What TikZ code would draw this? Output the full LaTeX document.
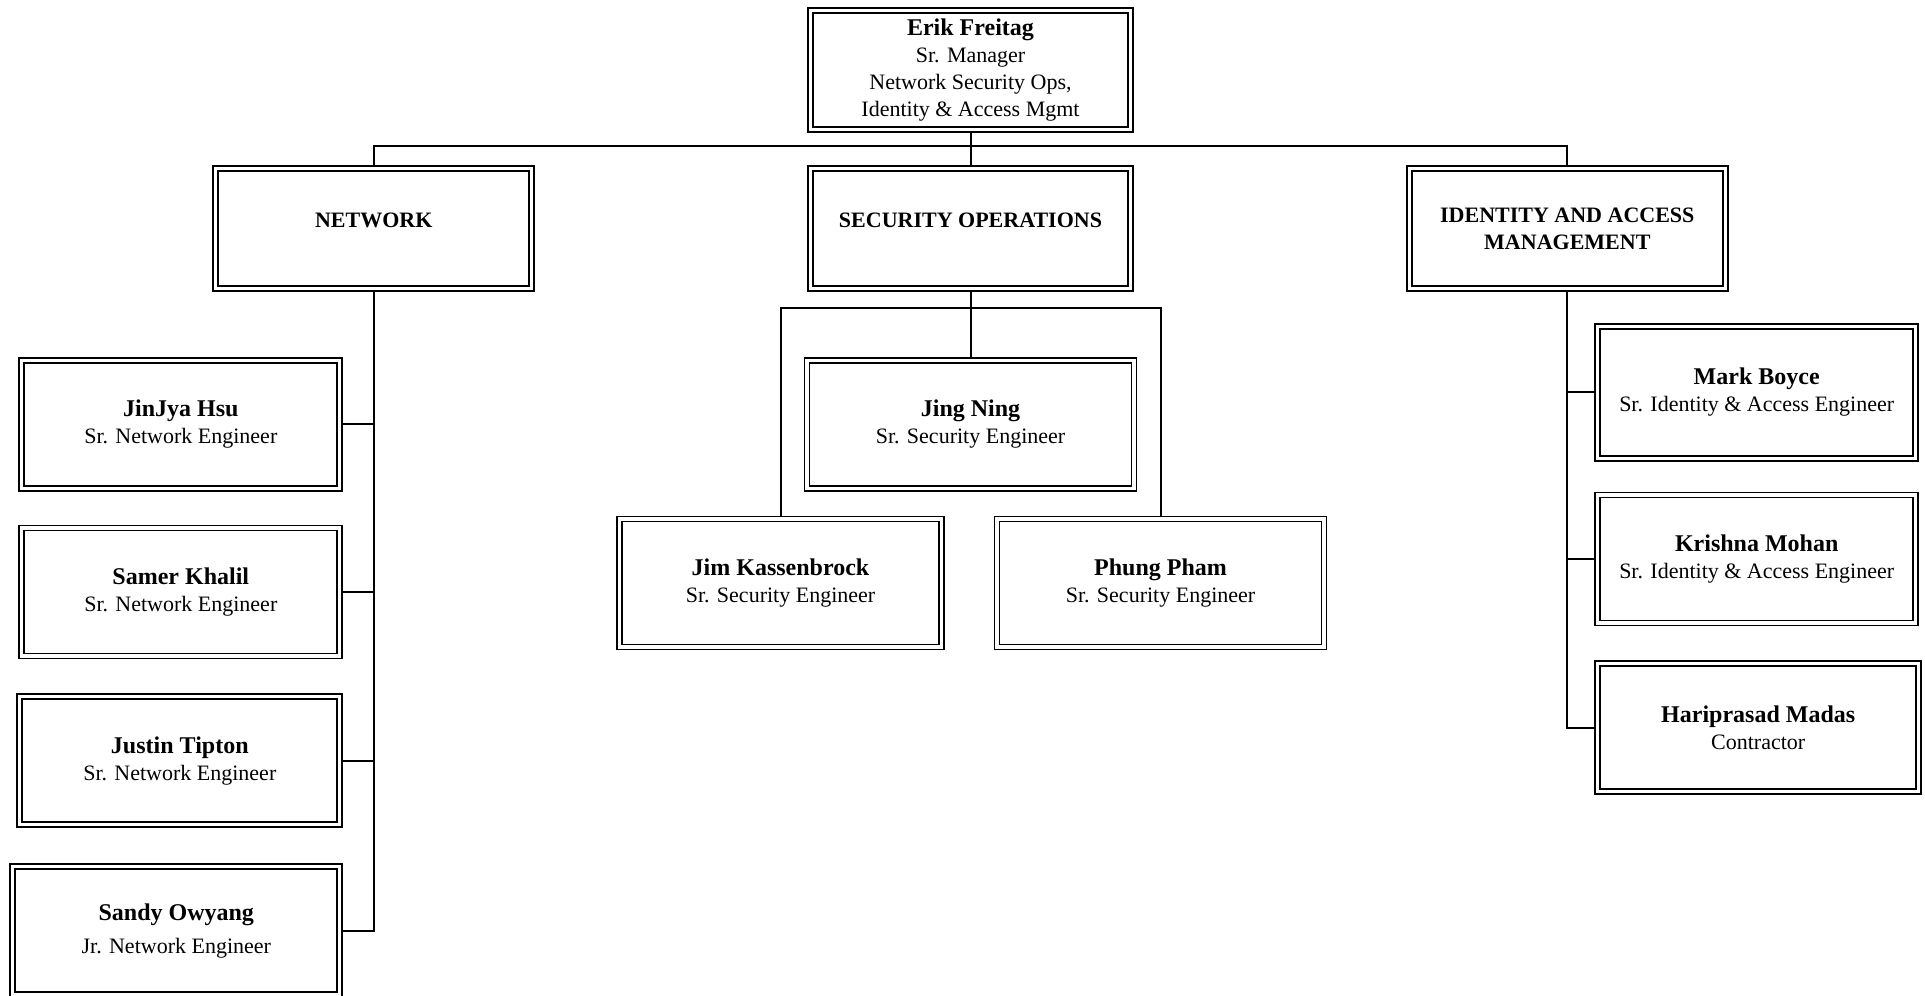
\documentclass[tikz,border=0pt]{standalone}
\usepackage{fontspec}
\setmainfont{Liberation Serif}
\usetikzlibrary{positioning}

\begin{document}
\begin{tikzpicture}[
  frame/.style={rectangle, draw=black, double, line width=0.9pt, double distance=1.6pt,
    outer sep=1.7pt, inner sep=2pt, align=center, font=\fontsize{11}{13.5}\selectfont},
  lead/.style={frame, minimum width=160pt, minimum height=59.6pt},
  unit/.style={frame, minimum width=158pt, minimum height=60pt,
    font=\fontsize{11}{13.5}\selectfont\bfseries},
  person/.style={frame, minimum width=159pt, minimum height=64pt},
  link/.style={black, line width=1pt}]
\useasboundingbox (0,0) rectangle (962.5pt,-497.5pt);
\node[lead] (boss) at (485.25pt,-35pt) {{\large\bfseries Erik Freitag}\\Sr. Manager\\Network Security Ops,\\Identity \& Access Mgmt};
\node[unit, minimum width=160pt, text depth=8pt, below=16pt of boss] (secops) {SECURITY OPERATIONS};
\node[unit, text depth=8pt, left=136pt of secops] (network) {NETWORK};
\node[unit, right=136pt of secops] (iam) {IDENTITY AND ACCESS\\MANAGEMENT};
\coordinate (topbar) at ([yshift=-6.5pt]boss.south);
\draw[link] (boss) -- (secops);
\draw[link] (network.north) |- (topbar) -| (iam.north);
% security operations
\node[person, minimum width=163.5pt, below=32.5pt of secops] (jing) {{\large\bfseries Jing Ning}\\Sr. Security Engineer};
\node[person, minimum width=161pt, below=12pt of jing, xshift=-95pt] (jim) {{\large\bfseries Jim Kassenbrock}\\Sr. Security Engineer};
\node[person, minimum width=163.5pt, below=12pt of jing, xshift=95pt] (phung) {{\large\bfseries Phung Pham}\\Sr. Security Engineer};
\coordinate (secbar) at ([yshift=-8pt]secops.south);
\draw[link] (secops) -- (jing);
\draw[link] (jim.north) |- (secbar) -| (phung.north);
% network
\node[person, below left=32.5pt and 15.25pt of network.south] (jinjya) {{\large\bfseries JinJya Hsu}\\Sr. Network Engineer};
\node[person, below=16.5pt of jinjya.south east, anchor=north east] (samer) {{\large\bfseries Samer Khalil}\\Sr. Network Engineer};
\node[person, minimum width=160pt, below=17pt of samer.south east, anchor=north east] (justin) {{\large\bfseries Justin Tipton}\\Sr. Network Engineer};
\node[person, minimum width=163.5pt, below=17.5pt of justin.south east, anchor=north east] (sandy) {{\large\bfseries Sandy Owyang}\\[3pt]Jr. Network Engineer};
\draw[link] (network.south) |- (sandy.east);
\foreach \p in {jinjya,samer,justin}
  \draw[link] (\p.east) -- (\p.east -| network.south);
% identity and access
\node[person, minimum height=66pt, below right=15.5pt and 13.5pt of iam.south] (mark) {{\large\bfseries Mark Boyce}\\Sr. Identity \& Access Engineer};
\node[person, below=15pt of mark.south west, anchor=north west] (krishna) {{\large\bfseries Krishna Mohan}\\Sr. Identity \& Access Engineer};
\node[person, minimum width=160.5pt, below=17pt of krishna.south west, anchor=north west] (hari) {{\large\bfseries Hariprasad Madas}\\Contractor};
\draw[link] (iam.south) |- (hari.west);
\foreach \p in {mark,krishna}
  \draw[link] (\p.west) -- (\p.west -| iam.south);
\end{tikzpicture}
\end{document}
